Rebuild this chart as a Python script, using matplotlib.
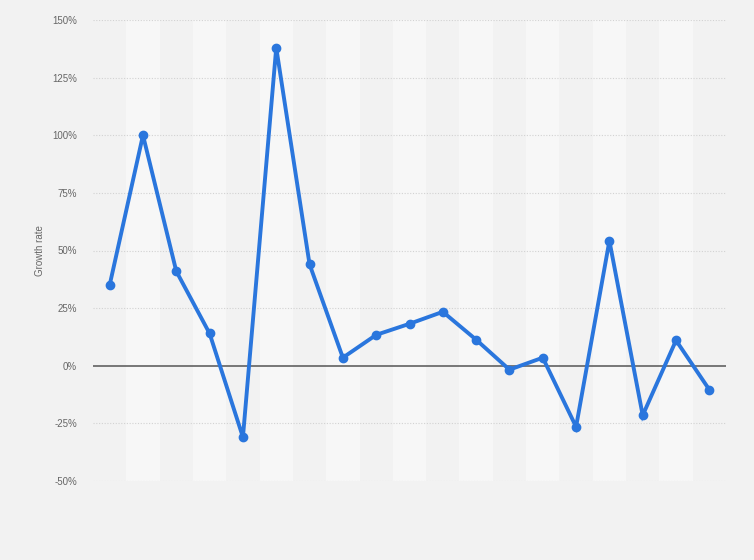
import matplotlib.pyplot as plt
import numpy as np

plt.rcParams['font.family'] = ['Liberation Sans', 'DejaVu Sans']

# data
growth = [35, 100, 41, 14, -31, 138, 44, 3.5, 13.4, 18.2, 23.4, 11.3,
          -1.7, 3.5, -26.5, 54.2, -21.5, 11, -10.4]
yticks = [-50, -25, 0, 25, 50, 75, 100, 125, 150]
ytick_labels = ['-50%', '-25%', '0%', '25%', '50%', '75%', '100%', '125%', '150%']

x = np.arange(len(growth))

fig = plt.figure(figsize=(7.54, 5.6), dpi=100, facecolor='#f2f2f2')
ax = fig.add_axes([93 / 754, 1 - 481 / 560, 633 / 754, 461 / 560])
ax.set_facecolor('#f2f2f2')

# alternating column bands
for i in x:
    if i % 2 == 1:
        ax.axvspan(i - 0.5, i + 0.5, color='#f7f7f7', zorder=0, lw=0)

ax.set_xlim(-0.5, len(growth) - 0.5)
ax.set_ylim(-50, 150)

for t in yticks:
    if t == 0:
        ax.axhline(0, color='#555555', lw=1.1, zorder=1)
    else:
        ax.axhline(t, color='#d2d2d2', lw=0.8, ls=(0, (1, 1.5)), zorder=1)

ax.plot(x, growth, color='#2a76dd', lw=2.8, marker='o', markersize=6,
        solid_joinstyle='miter', zorder=3)

ax.set_yticks(yticks)
ax.set_yticklabels(ytick_labels)
ax.tick_params(axis='y', length=0, pad=11.5, labelsize=7, labelcolor='#666666')
ax.set_xticks([])
for s in ax.spines.values():
    s.set_visible(False)

ax.set_ylabel('Growth rate', fontsize=7, color='#666666', labelpad=5)

fig.savefig('out.png', dpi=100, facecolor=fig.get_facecolor())
